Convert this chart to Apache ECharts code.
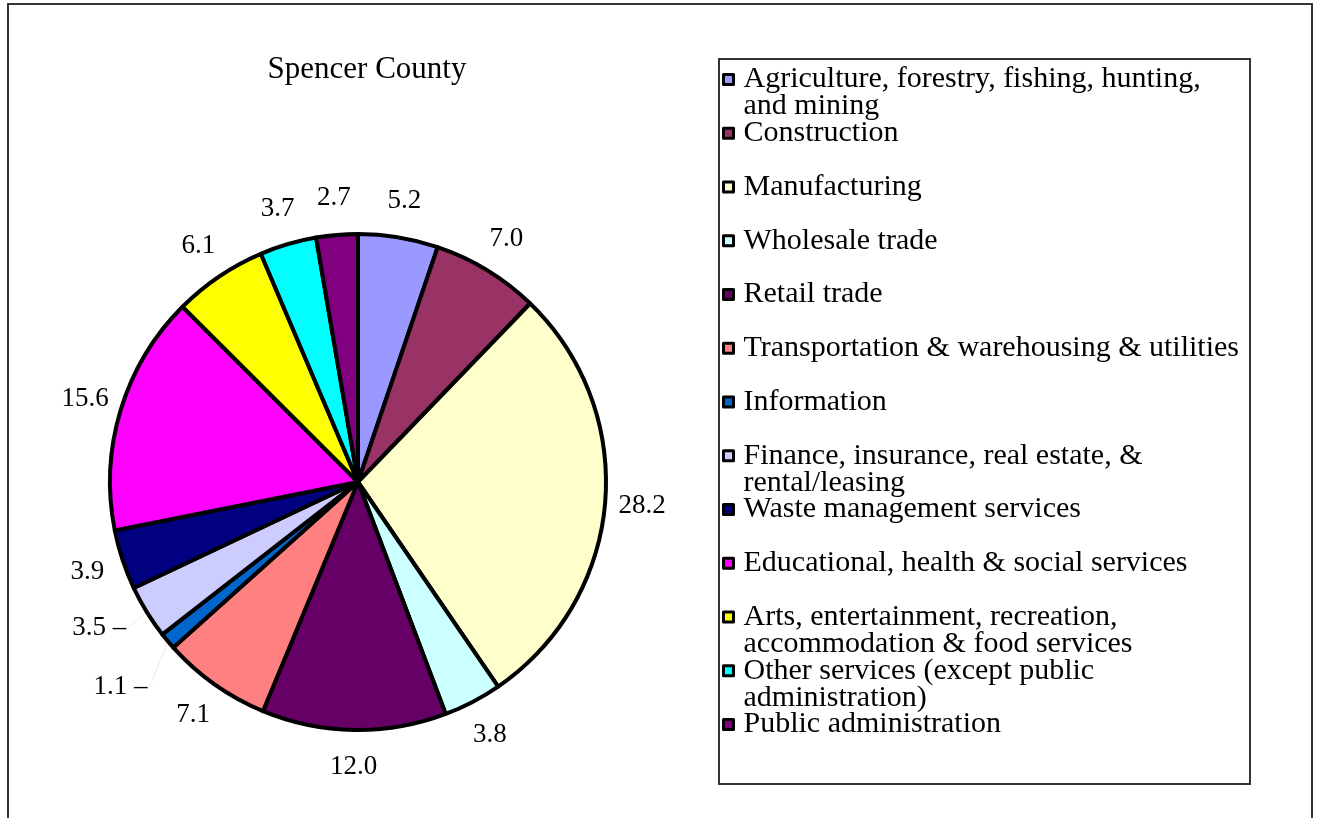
<!DOCTYPE html>
<html>
<head>
<meta charset="utf-8">
<script src="https://cdn.jsdelivr.net/npm/echarts@6/dist/echarts.min.js"></script>
<style>
html,body{margin:0;padding:0;background:#fff;}
#chart{width:1317px;height:818px;}
</style>
</head>
<body>
<div id="chart"></div>
<script>
const title = 'Spencer County';
const categories = [
  'Agriculture, forestry, fishing, hunting,\nand mining',
  'Construction',
  'Manufacturing',
  'Wholesale trade',
  'Retail trade',
  'Transportation & warehousing & utilities',
  'Information',
  'Finance, insurance, real estate, &\nrental/leasing',
  'Waste management services',
  'Educational, health & social services',
  'Arts, entertainment, recreation,\naccommodation & food services',
  'Other services (except public\nadministration)',
  'Public administration'
];
const values = [5.2, 7.0, 28.2, 3.8, 12.0, 7.1, 1.1, 3.5, 3.9, 15.6, 6.1, 3.7, 2.7];
const colors = ['#9999FF','#993366','#FFFFCC','#CCFFFF','#660066','#FF8080','#0066CC','#CCCCFF','#000080','#FF00FF','#FFFF00','#00FFFF','#800080'];
const leaderIdx = [6, 7];          // labels drawn with leader lines
const leaderLen = { 6: [72, -37], 7: [30, -7] };

const SERIF = 'Liberation Serif';
const LEG_LH = 27, LEG_TOP = 78, LEG_STEP = 53.75;
const CX = 358, CY = 482, R = 248;

const chart = echarts.init(document.getElementById('chart'));

const mainData = categories.map((c, i) => {
  const isL = leaderIdx.includes(i);
  return {
    name: c,
    value: values[i],
    itemStyle: { color: colors[i] },
    label: { show: isL },
    labelLine: isL ? { show: true, length: leaderLen[i][0], length2: leaderLen[i][1], lineStyle: { color: '#ececec', width: 1 } } : { show: false }
  };
});
const ringData = categories.map((c, i) => ({
  name: c,
  value: values[i],
  itemStyle: { color: 'rgba(0,0,0,0)', borderWidth: 0 },
  label: { show: !leaderIdx.includes(i) }
}));

// one legend per entry so that wrapped second lines overlap the next entry
const legends = categories.map((c, i) => {
  const lines = c.split('\n').length;
  const total = 2 * lines - 1;            // blank lines above keep line 1 beside the icon
  const h = total * LEG_LH;
  const center = LEG_TOP + i * LEG_STEP;
  return {
    orient: 'vertical',
    left: 722,
    top: center - h / 2,
    padding: 0,
    itemWidth: 10, itemHeight: 10,
    icon: 'rect',
    itemStyle: { borderColor: '#000', borderWidth: 3 },
    selectedMode: false,
    formatter: name => '\n'.repeat(lines - 1) + name,
    textStyle: {
      fontFamily: SERIF, fontSize: 30, color: '#000',
      lineHeight: LEG_LH,
      padding: [0, 0, 0, 5]
    },
    data: [c]
  };
});

chart.setOption({
  animation: false,
  backgroundColor: '#fff',
  title: {
    text: title,
    left: 362, top: 49, textAlign: 'center',
    textStyle: { fontFamily: SERIF, fontSize: 31, fontWeight: 'normal', color: '#000' }
  },
  graphic: [
    { type: 'rect', shape: { x: 8, y: 4, width: 1304, height: 830 }, style: { fill: 'none', stroke: '#333', lineWidth: 2 }, silent: true },
    { type: 'rect', shape: { x: 719, y: 59, width: 531, height: 725 }, style: { fill: 'none', stroke: '#333', lineWidth: 2 }, silent: true, z: -1 }
  ],
  legend: legends,
  series: [{
    type: 'pie',
    name: 'main',
    center: [CX, CY],
    radius: R,
    startAngle: 90,
    clockwise: true,
    avoidLabelOverlap: false,
    data: mainData,
    itemStyle: { borderColor: '#000', borderWidth: 4 },
    label: {
      position: 'outside',
      formatter: p => p.value.toFixed(1) + ' –',
      distanceToLabelLine: 2,
      fontFamily: SERIF, fontSize: 27, color: '#000'
    },
    emphasis: { disabled: true },
    z: 2
  }, {
    type: 'pie',
    name: 'labels',
    center: [CX, CY],
    radius: [R, R + 68],
    startAngle: 90,
    clockwise: true,
    avoidLabelOverlap: false,
    silent: true,
    data: ringData,
    label: {
      position: 'inside',
      formatter: p => p.value.toFixed(1),
      fontFamily: SERIF, fontSize: 27, color: '#000'
    },
    labelLine: { show: false },
    emphasis: { disabled: true },
    z: 1
  }]
});
</script>
</body>
</html>
